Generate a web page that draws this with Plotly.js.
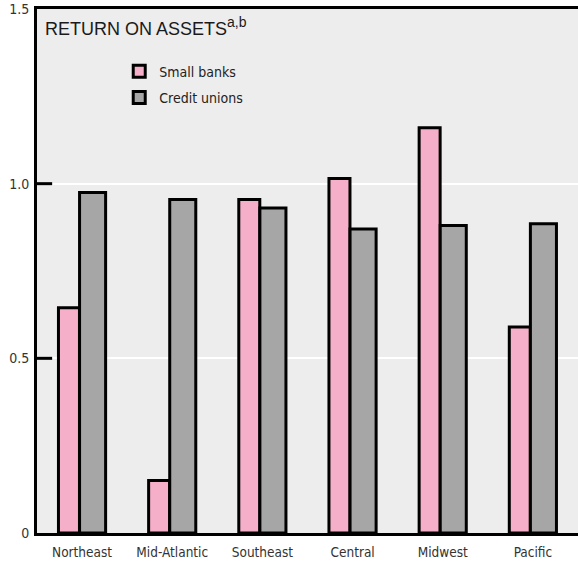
<!DOCTYPE html>
<html>
<head>
<meta charset="utf-8">
<script src="https://cdn.plot.ly/plotly-3.0.1.min.js"></script>
<style>
  html, body { margin: 0; padding: 0; background: #ffffff; }
  #chart { width: 578px; height: 562px; }
</style>
</head>
<body>
<div id="chart"></div>
<script>
// Data
const regions = ["Northeast", "Mid-Atlantic", "Southeast", "Central", "Midwest", "Pacific"];
const smallBanks = [0.645, 0.15, 0.955, 1.015, 1.16, 0.59];
const creditUnions = [0.975, 0.955, 0.93, 0.87, 0.88, 0.885];
const yTickVals = [0, 0.5, 1.0, 1.5];
const yTickText = ["0", "0.5", "1.0", "1.5"];
const titleText = "RETURN ON ASSETS<sup><span style='font-size:14px'>a,b</span></sup>";

const narrow = '"Liberation Sans Narrow", "DejaVu Sans Condensed", "Arial Narrow", sans-serif';
const sans = '"Liberation Sans", Arial, sans-serif';

const traces = [
  {
    type: "bar",
    name: "Small banks",
    x: regions,
    y: smallBanks,
    offset: -0.262,
    width: 0.233,
    marker: { color: "#f6afc8", line: { color: "#000000", width: 3 } },
    legendgroup: "a",
    hoverinfo: "skip"
  },
  {
    type: "bar",
    name: "Credit unions",
    x: regions,
    y: creditUnions,
    offset: -0.028,
    width: 0.289,
    marker: { color: "#a6a6a6", line: { color: "#000000", width: 3 } },
    legendgroup: "b",
    hoverinfo: "skip"
  }
];

// inward tick marks on the value axis (drawn at the tick values)
const tickShapes = yTickVals.filter(v => v > 0 && v < 1.5).map(v => ({
  type: "line", xref: "paper", yref: "y",
  x0: 0, x1: 0.028, y0: v, y1: v,
  line: { color: "#000000", width: 3 },
  layer: "above"
}));

const layout = {
  width: 578,
  height: 562,
  margin: { l: 37, r: 0, t: 9, b: 29, pad: 0 },
  paper_bgcolor: "#ffffff",
  plot_bgcolor: "#ededed",
  barmode: "overlay",
  showlegend: true,
  legend: {
    x: 0.152, y: 0.911, xanchor: "left", yanchor: "top",
    bgcolor: "rgba(0,0,0,0)", borderwidth: 0,
    font: { family: narrow, size: 14, color: "#222222" },
    traceorder: "grouped",
    tracegroupgap: 5
  },
  xaxis: {
    type: "category",
    range: [-0.5, 5.5],
    showline: true, linecolor: "#000000", linewidth: 3, mirror: true,
    ticks: "", showgrid: false, zeroline: false,
    ticklabelstandoff: 5,
    tickfont: { family: narrow, size: 13.5, color: "#333333" },
    fixedrange: true
  },
  yaxis: {
    range: [0, 1.5],
    tickmode: "array",
    tickvals: yTickVals,
    ticktext: yTickText,
    showline: true, linecolor: "#000000", linewidth: 3, mirror: false,
    ticks: "",
    ticklabelstandoff: 2,
    showgrid: true, gridcolor: "#ffffff", gridwidth: 2,
    zeroline: false,
    tickfont: { family: narrow, size: 14, color: "#333333" },
    fixedrange: true
  },
  shapes: tickShapes,
  annotations: [
    {
      text: titleText,
      xref: "paper", yref: "paper",
      x: 0.012, y: 0.995, xanchor: "left", yanchor: "top",
      showarrow: false,
      font: { family: sans, size: 18, color: "#1a1a1a" }
    }
  ]
};

Plotly.newPlot("chart", traces, layout, { displayModeBar: false, staticPlot: true });
</script>
</body>
</html>
